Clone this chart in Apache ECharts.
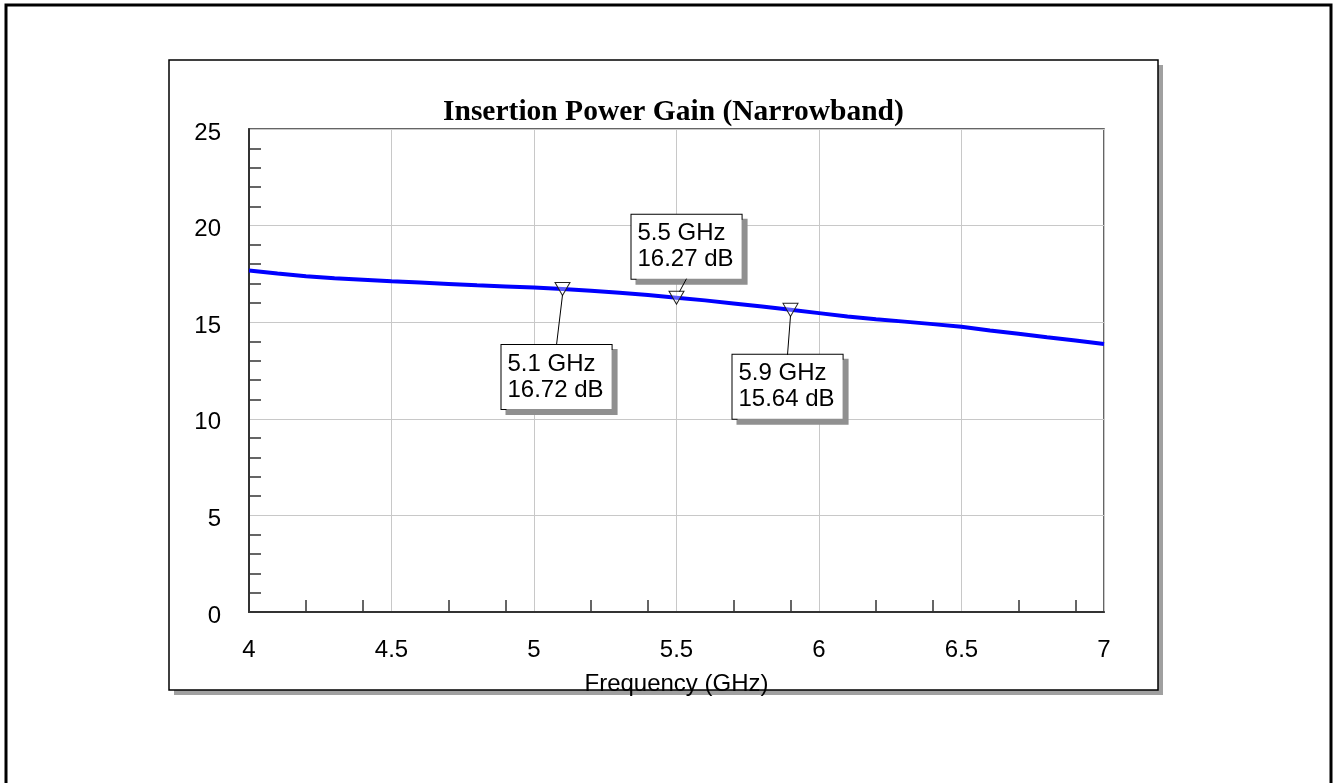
<!DOCTYPE html>
<html>
<head>
<meta charset="utf-8">
<script src="https://cdn.jsdelivr.net/npm/echarts@6/dist/echarts.min.js"></script>
<style>
  html, body { margin: 0; padding: 0; background: #fff; }
  #main { width: 1333px; height: 783px; }
</style>
</head>
<body>
<div id="main"></div>
<script>
// frequency sweep (GHz) and gain (dB)
const freq = [4.0, 4.1, 4.2, 4.3, 4.4, 4.5, 4.6, 4.7, 4.8, 4.9, 5.0, 5.1, 5.2, 5.3, 5.4, 5.5,
  5.6, 5.7, 5.8, 5.9, 6.0, 6.1, 6.2, 6.3, 6.4, 6.5, 6.6, 6.7, 6.8, 6.9, 7.0];
const gain = [17.68, 17.52, 17.38, 17.28, 17.2, 17.12, 17.05, 16.98, 16.91, 16.85, 16.79, 16.72, 16.63, 16.53, 16.41, 16.27,
  16.13, 15.97, 15.81, 15.64, 15.47, 15.3, 15.15, 15.03, 14.9, 14.76, 14.57, 14.4, 14.22, 14.05, 13.87];

// marker readouts
const markerFreq = [5.1, 5.5, 5.9];
const markerGain = [16.72, 16.27, 15.64];

// x minor tick positions as drawn in the original
const xMinorTicks = [4.2, 4.4, 4.7, 4.9, 5.2, 5.4, 5.7, 5.9, 6.2, 6.4, 6.7, 6.9];

// where each callout box sits relative to its marker (px, left edge / centre)
const calloutOffset = [[-61, 88], [-45, -51], [-58, 77]];
const boxW = 110, boxH = 64;

const font = "'Liberation Sans', Arial, sans-serif";

const chart = echarts.init(document.getElementById('main'));

const markerData = markerFreq.map((f, i) => ({
  value: [f, markerGain[i]],
  label: { offset: calloutOffset[i] }
}));

const frames = [
  // outer frame (bottom edge runs off the page)
  { id: 'outer', type: 'rect', z: -10, shape: { x: 6, y: 5, width: 1325, height: 800 },
    style: { fill: '#fff', stroke: '#000', lineWidth: 3 } },
  // panel shadow + panel
  { id: 'panelShadow', type: 'rect', z: -9, shape: { x: 174, y: 65, width: 989, height: 630 },
    style: { fill: '#a0a0a0' } },
  { id: 'panel', type: 'rect', z: -8, shape: { x: 169, y: 60, width: 989, height: 630 },
    style: { fill: '#fff', stroke: '#000', lineWidth: 1.5 } }
];

const option = {
  backgroundColor: '#fff',
  animation: false,
  title: {
    text: 'Insertion Power Gain (Narrowband)',
    left: 438,
    top: 92,
    textStyle: { fontFamily: "'Liberation Serif', 'Times New Roman', serif", fontWeight: 'bold', fontSize: 29.5, color: '#000' }
  },
  graphic: frames,
  grid: {
    left: 249, top: 129, right: 229, bottom: 171,
    show: true, borderColor: '#333', borderWidth: 1.5, backgroundColor: 'transparent'
  },
  xAxis: [
    {
      type: 'value', min: 4, max: 7, interval: 0.5,
      name: 'Frequency (GHz)', nameLocation: 'middle', nameGap: 60,
      nameTextStyle: { fontFamily: font, fontSize: 24, color: '#000' },
      axisLine: { lineStyle: { color: '#333', width: 2 } },
      axisTick: { show: false },
      axisLabel: { fontFamily: font, fontSize: 24, color: '#000', margin: 26 },
      splitLine: { show: true, lineStyle: { color: '#c8c8c8', width: 1 } }
    },
    {
      // overlay axis only for the minor ticks
      type: 'value', min: 4, max: 7, position: 'bottom',
      axisLine: { show: false },
      axisLabel: { show: false },
      splitLine: { show: false },
      axisTick: { show: true, inside: true, length: 12, customValues: xMinorTicks,
        lineStyle: { color: '#333', width: 1.5 } }
    }
  ],
  yAxis: {
    type: 'value', min: 0, max: 25, interval: 5,
    axisLine: { show: true, lineStyle: { color: '#333', width: 2 } },
    axisTick: { show: false, inside: true },
    minorTick: { show: true, splitNumber: 5, length: 12, lineStyle: { color: '#333', width: 1.5 } },
    // labels sit a few px below their gridline in the original
    axisLabel: { fontFamily: font, fontSize: 24, color: '#000', margin: 28, verticalAlign: 'top', lineHeight: 8 },
    splitLine: { show: true, lineStyle: { color: '#c8c8c8', width: 1 } }
  },
  series: [
    {
      name: 'Gain',
      type: 'line',
      xAxisIndex: 0,
      data: freq.map((f, i) => [f, gain[i]]),
      showSymbol: false,
      lineStyle: { color: '#0000ff', width: 4 },
      z: 3
    },
    {
      name: 'Markers',
      type: 'scatter',
      xAxisIndex: 0,
      data: markerData,
      // downward triangle
      symbol: 'path://M0,0 L14,0 L7,12 Z',
      symbolSize: [15, 13],
      itemStyle: { color: 'rgba(255,255,255,0.35)', borderColor: '#222', borderWidth: 1, opacity: 1 },
      label: {
        show: true,
        position: 'inside',
        formatter: p => p.value[0] + ' GHz\n' + p.value[1].toFixed(2) + ' dB',
        fontFamily: font, fontSize: 24, lineHeight: 26, color: '#000', align: 'left',
        backgroundColor: '#fff', borderColor: '#000', borderWidth: 1,
        padding: [6, 8, 6, 6],
        shadowColor: '#909090', shadowOffsetX: 5, shadowOffsetY: 5, shadowBlur: 0
      },
      z: 4
    }
  ]
};

chart.setOption(option);

// leader lines from each callout box to its marker, placed via the chart's own scales
const leaders = markerFreq.map((f, i) => {
  const p = chart.convertToPixel({ gridIndex: 0 }, [f, markerGain[i]]);
  const off = calloutOffset[i];
  const bx = p[0] + off[0] + boxW / 2;
  const below = off[1] > 0;
  const by = below ? p[1] + off[1] - boxH / 2 : p[1] + off[1] + boxH / 2;
  const ex = below ? p[0] : p[0] + 3;
  const ey = below ? p[1] + 6 : p[1] - 6;
  return { id: 'leader' + i, type: 'line', z: 5,
    shape: { x1: bx, y1: by, x2: ex, y2: ey },
    style: { stroke: '#000', lineWidth: 1 } };
});

chart.setOption({ graphic: frames.concat(leaders) });
</script>
</body>
</html>
